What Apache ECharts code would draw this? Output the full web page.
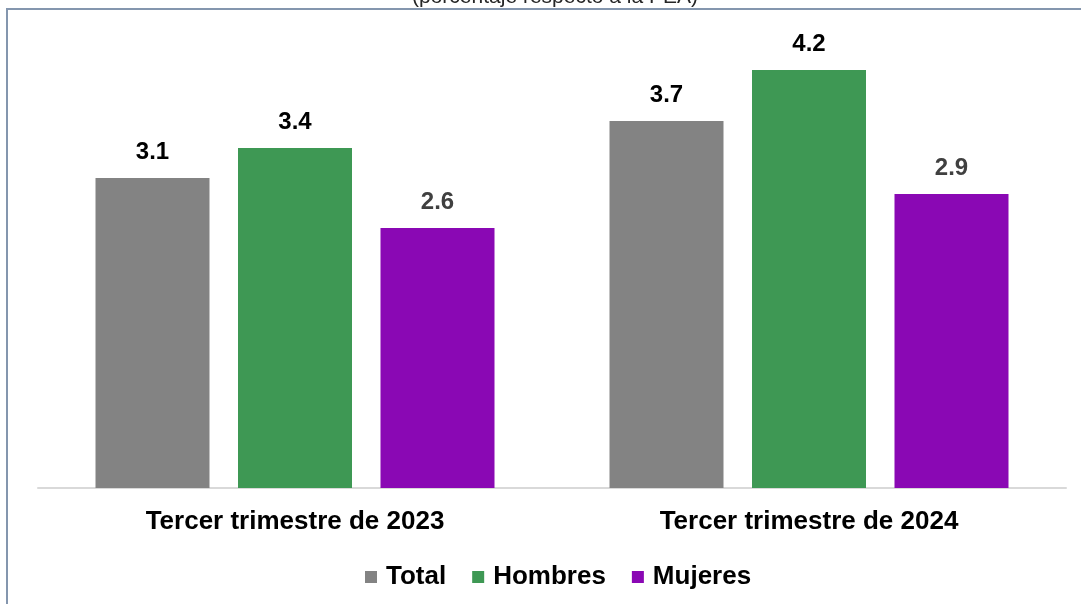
<!DOCTYPE html>
<html>
<head>
<meta charset="utf-8">
<script src="https://cdn.jsdelivr.net/npm/echarts@6/dist/echarts.min.js"></script>
<style>
html,body{margin:0;padding:0;background:#fff;}
#c{width:1081px;height:604px;}
</style>
</head>
<body>
<div id="c"></div>
<script>
var categories = ['Tercer trimestre de 2023', 'Tercer trimestre de 2024'];
var seriesNames = ['Total', 'Hombres', 'Mujeres'];
var totalValues = [3.1, 3.67];
var hombresValues = [3.4, 4.18];
var mujeresValues = [2.6, 2.94];
var subtitle = '(porcentaje respecto a la PEA)';

var colors = ['#838383', '#3E9854', '#8A08B4'];
var labelColors = ['#000000', '#000000', '#404040'];
var values = [totalValues, hombresValues, mujeresValues];
var FONT = '"Liberation Sans", Arial, sans-serif';

var chart = echarts.init(document.getElementById('c'), null, {renderer: 'canvas'});
var series = seriesNames.map(function (name, i) {
  return {
    name: name,
    type: 'bar',
    data: values[i],
    barWidth: 114,
    barGap: '25%',
    itemStyle: {color: colors[i]},
    label: {
      show: true,
      position: 'top',
      distance: 14,
      fontFamily: FONT,
      fontWeight: 'bold',
      fontSize: 24,
      color: labelColors[i],
      formatter: function (p) { return p.value.toFixed(1); }
    }
  };
});

chart.setOption({
  animation: false,
  backgroundColor: '#ffffff',
  textStyle: {fontFamily: FONT},
  grid: {left: 38, right: 15, top: 28, bottom: 116, containLabel: false},
  xAxis: {
    type: 'category',
    data: categories,
    axisLine: {show: true, lineStyle: {color: '#D9D9D9', width: 2}},
    axisTick: {show: false},
    axisLabel: {
      margin: 21,
      fontFamily: FONT,
      fontWeight: 'bold',
      fontSize: 26,
      color: '#000000'
    }
  },
  yAxis: {
    type: 'value',
    min: 0,
    max: 4.6,
    show: false,
    splitLine: {show: false}
  },
  legend: {
    data: seriesNames,
    left: 360,
    top: 559,
    icon: 'rect',
    itemWidth: 12,
    itemHeight: 12,
    itemGap: 26,
    textStyle: {
      fontFamily: FONT,
      fontWeight: 'bold',
      fontSize: 26,
      color: '#000000',
      padding: [0, 0, 0, 4]
    }
  },
  graphic: [
    {
      type: 'rect',
      shape: {x: 7, y: 9, width: 1090, height: 610},
      style: {fill: null, stroke: '#8496AE', lineWidth: 2},
      silent: true,
      z: 100
    },
    {
      type: 'text',
      x: 555,
      y: 8,
      style: {
        text: subtitle,
        fontFamily: FONT,
        fontSize: 21,
        fill: '#262626',
        textAlign: 'center',
        textVerticalAlign: 'bottom'
      },
      silent: true
    }
  ],
  series: series
});
</script>
</body>
</html>
